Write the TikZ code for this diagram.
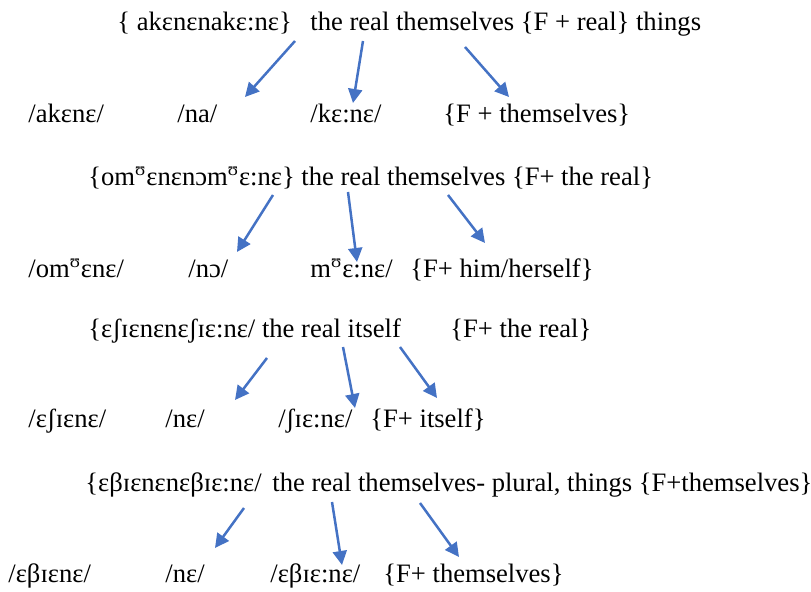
\documentclass[tikz,border=0pt]{standalone}
\usepackage{fontspec}
\setmainfont{Liberation Serif}
\usetikzlibrary{arrows.meta}
\definecolor{arrblue}{HTML}{4472C4}
\begin{document}
\begin{tikzpicture}[x=0.5pt,y=-0.5pt,
  txt/.style={anchor=base west,inner sep=0pt,font=\fontsize{13.3}{16}\selectfont},
  arr/.style={draw=arrblue,line width=1.25pt,-{Triangle[length=7pt,width=7pt]}}]
\useasboundingbox (0,0) rectangle (811,592);
% row 1
\node[txt] (r1a) at (117,31) {\{ akɛnɛnakɛ:nɛ\}};
\node[txt] (r1b) at (310,31) {the real themselves \{F + real\} things};
% row 2
\node[txt] (r2a) at (28,123) {/akɛnɛ/};
\node[txt] (r2b) at (177,123) {/na/};
\node[txt] (r2c) at (310,123) {/kɛ:nɛ/};
\node[txt] (r2d) at (443,123) {\{F + themselves\}};
% row 3
\node[txt] (r3a) at (88,186) {\{om\textsuperscript{ʊ}ɛnɛnɔm\textsuperscript{ʊ}ɛ:nɛ\} the real themselves \{F+ the real\}};
% row 4
\node[txt] (r4a) at (28,278) {/om\textsuperscript{ʊ}ɛnɛ/};
\node[txt] (r4b) at (188,278) {/nɔ/};
\node[txt] (r4c) at (310,278) {m\textsuperscript{ʊ}ɛ:nɛ/};
\node[txt] (r4d) at (410,278) {\{F+ him/herself\}};
% row 5
\node[txt] (r5a) at (88,338) {\{ɛʃɪɛnɛnɛʃɪɛ:nɛ/ the real itself};
\node[txt] (r5b) at (450,338) {\{F+ the real\}};
% row 6
\node[txt] (r6a) at (28,428) {/ɛʃɪɛnɛ/};
\node[txt] (r6b) at (165,428) {/nɛ/};
\node[txt] (r6c) at (278,428) {/ʃɪɛ:nɛ/};
\node[txt] (r6d) at (370,428) {\{F+ itself\}};
% row 7
\node[txt] (r7a) at (85,492) {\{ɛβɪɛnɛnɛβɪɛ:nɛ/};
\node[txt] (r7b) at (272,492) {the real themselves- plural, things \{F+themselves\}};
% row 8
\node[txt] (r8a) at (8,583) {/ɛβɪɛnɛ/};
\node[txt] (r8b) at (165,583) {/nɛ/};
\node[txt] (r8c) at (270,583) {/ɛβɪɛ:nɛ/};
\node[txt] (r8d) at (383,583) {\{F+ themselves\}};
% arrow end points
\coordinate (a1s) at (295,41);  \coordinate (a1t) at (245,97);
\coordinate (a2s) at (363,41);  \coordinate (a2t) at (353,103);
\coordinate (a3s) at (465,47);  \coordinate (a3t) at (509,97);
\coordinate (b1s) at (273,195); \coordinate (b1t) at (237,252);
\coordinate (b2s) at (348,192); \coordinate (b2t) at (357,262);
\coordinate (b3s) at (448,195); \coordinate (b3t) at (485,243);
\coordinate (c1s) at (267,358); \coordinate (c1t) at (235,400);
\coordinate (c2s) at (343,347); \coordinate (c2t) at (355,408);
\coordinate (c3s) at (400,347); \coordinate (c3t) at (437,398);
\coordinate (d1s) at (244,508); \coordinate (d1t) at (215,548);
\coordinate (d2s) at (332,502); \coordinate (d2t) at (342,565);
\coordinate (d3s) at (420,503); \coordinate (d3t) at (459,557);
\foreach \p in {a1,a2,a3,b1,b2,b3,c1,c2,c3,d1,d2,d3}
  \draw[arr] (\p s) -- (\p t);
\end{tikzpicture}
\end{document}
